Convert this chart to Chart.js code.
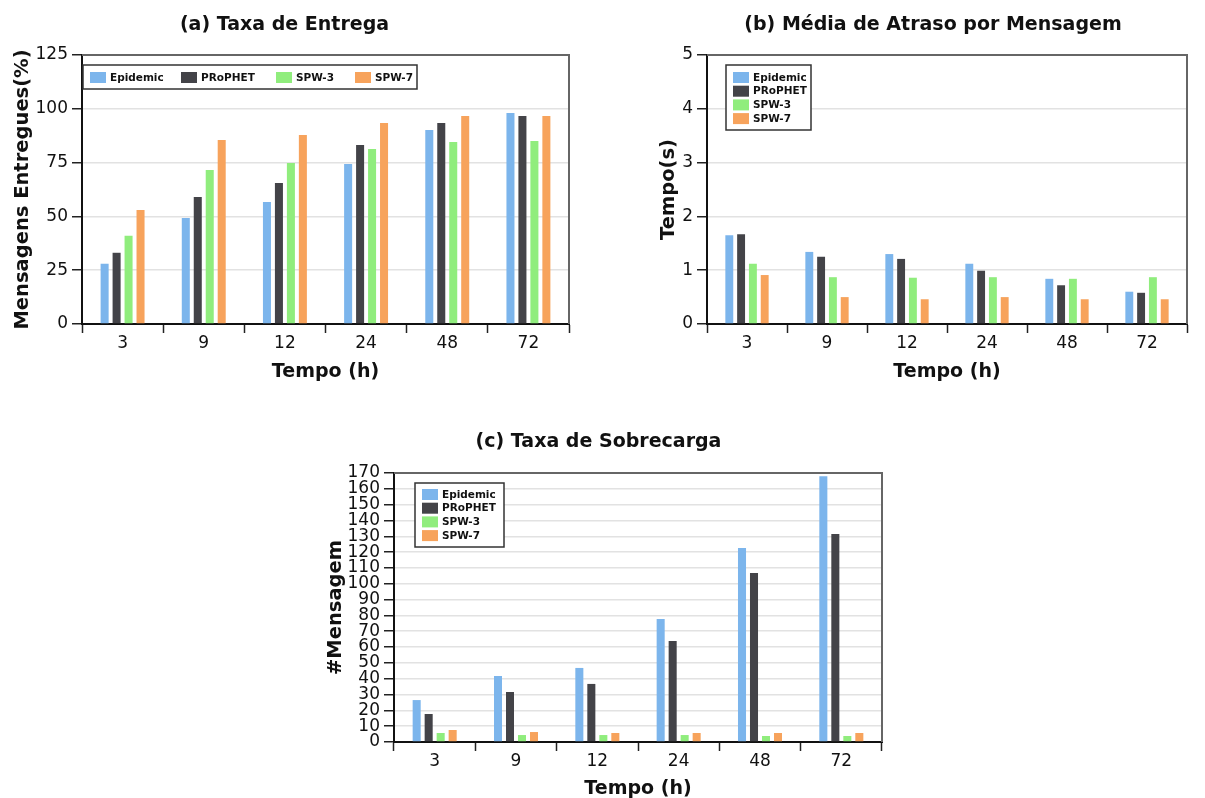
<!DOCTYPE html>
<html>
<head>
<meta charset="utf-8">
<script src="https://cdn.jsdelivr.net/npm/chart.js@4.4.1/dist/chart.umd.min.js"></script>
<style>
  html, body { margin: 0; padding: 0; background: #fff; width: 1205px; height: 798px; overflow: hidden; }
  canvas { position: absolute; }
</style>
</head>
<body>
<canvas id="chartA" width="600" height="400" style="left:0;top:0"></canvas>
<canvas id="chartB" width="600" height="400" style="left:605px;top:0"></canvas>
<canvas id="chartC" width="600" height="410" style="left:300px;top:400px"></canvas>
<script>
// categorias e séries
const categories = ["3", "9", "12", "24", "48", "72"];
const seriesNames = ["Epidemic", "PRoPHET", "SPW-3", "SPW-7"];
const palette = ["#7cb5ec", "#434348", "#90ed7d", "#f7a35c"];

// (a) taxa de entrega (%)
const deliveryEpidemic = [28, 49.3, 56.7, 74.3, 90.1, 98.0];
const deliveryProphet = [33.1, 59, 65.5, 83.2, 93.4, 96.7];
const deliverySpw3 = [41, 71.6, 74.8, 81.3, 84.6, 85.0];
const deliverySpw7 = [53, 85.5, 87.8, 93.4, 96.7, 96.7];

// (b) média de atraso (s)
const delayEpidemic = [1.65, 1.34, 1.30, 1.12, 0.84, 0.60];
const delayProphet = [1.67, 1.25, 1.21, 0.99, 0.72, 0.58];
const delaySpw3 = [1.12, 0.87, 0.86, 0.87, 0.84, 0.87];
const delaySpw7 = [0.91, 0.50, 0.46, 0.50, 0.46, 0.46];

// (c) taxa de sobrecarga
const overheadEpidemic = [26.5, 41.7, 46.8, 77.7, 122.6, 168];
const overheadProphet = [17.7, 31.6, 36.7, 63.8, 106.8, 131.5];
const overheadSpw3 = [5.7, 4.4, 4.4, 4.4, 3.8, 3.8];
const overheadSpw7 = [7.6, 6.3, 5.7, 5.7, 5.7, 5.7];

const FONT = "'DejaVu Sans', Verdana, sans-serif";

// borda superior/direita do gráfico
const frameBorder = {
    id: "frameBorder",
    afterDraw(chart) {
        const { ctx, chartArea: a } = chart;
        ctx.save();
        ctx.strokeStyle = "#666";
        ctx.lineWidth = 2;
        ctx.beginPath();
        ctx.moveTo(a.left, a.top);
        ctx.lineTo(a.right, a.top);
        ctx.lineTo(a.right, a.bottom);
        ctx.stroke();
        ctx.restore();
    },
};

// legenda com caixa dentro da área do gráfico
const boxLegend = {
    id: "boxLegend",
    afterDraw(chart, args, opts) {
        const { ctx, chartArea: a } = chart;
        const x = a.left + opts.dx, y = a.top + opts.dy;
        ctx.save();
        ctx.fillStyle = "#fff";
        ctx.fillRect(x, y, opts.w, opts.h);
        ctx.strokeStyle = "#333";
        ctx.lineWidth = 1.5;
        ctx.strokeRect(x, y, opts.w, opts.h);
        ctx.font = "bold 10.5px " + FONT;
        ctx.textBaseline = "middle";
        ctx.textAlign = "left";
        chart.data.datasets.forEach((ds, i) => {
            let ix, iy;
            if (opts.horizontal) {
                ix = x + opts.cols[i];
                iy = y + opts.pad;
            } else {
                ix = x + opts.pad;
                iy = y + opts.padTop + i * opts.pitch;
            }
            ctx.fillStyle = ds.backgroundColor;
            ctx.fillRect(ix, iy, 16, 11);
            ctx.fillStyle = "#111";
            ctx.fillText(ds.label, ix + 20, iy + 6);
        });
        ctx.restore();
    },
};

function makeDatasets(lists) {
    return lists.map((values, i) => ({
        label: seriesNames[i],
        data: values,
        backgroundColor: palette[i],
        borderWidth: 0,
        categoryPercentage: 0.59,
        barPercentage: 0.67,
    }));
}

function makeChart(id, cfg) {
    return new Chart(document.getElementById(id), {
        type: "bar",
        data: { labels: categories, datasets: makeDatasets(cfg.series) },
        plugins: [frameBorder, boxLegend],
        options: {
            responsive: false,
            maintainAspectRatio: false,
            animation: false,
            devicePixelRatio: 1,
            layout: { padding: cfg.padding },
            plugins: {
                legend: { display: false },
                tooltip: { enabled: false },
                title: {
                    display: true,
                    text: cfg.title,
                    color: "#111",
                    font: { family: FONT, size: 19, weight: "bold" },
                    padding: cfg.titlePad,
                },
                boxLegend: cfg.legend,
            },
            scales: {
                x: {
                    offset: true,
                    afterFit: (s) => { s.height = cfg.xHeight; },
                    border: { display: true, color: "#111", width: 2 },
                    grid: {
                        display: true,
                        offset: true,
                        drawOnChartArea: false,
                        drawTicks: true,
                        tickLength: 9,
                        tickColor: "#222",
                        tickWidth: 1.5,
                    },
                    ticks: { color: "#111", padding: 0, font: { family: FONT, size: 17 } },
                    title: {
                        display: true,
                        text: "Tempo (h)",
                        color: "#111",
                        font: { family: FONT, size: 19, weight: "bold" },
                        padding: { top: 0, bottom: cfg.xTitlePad },
                    },
                },
                y: {
                    min: 0,
                    max: cfg.yMax,
                    afterFit: (s) => { s.width = cfg.yWidth; },
                    border: { display: true, color: "#111", width: 2 },
                    grid: {
                        color: "#e2e2e2",
                        lineWidth: 1.5,
                        drawTicks: true,
                        tickLength: 10,
                        tickColor: "#222",
                        tickWidth: 1.5,
                    },
                    ticks: {
                        stepSize: cfg.yStep,
                        autoSkip: false,
                        color: "#111",
                        padding: 4,
                        font: { family: FONT, size: 17 },
                    },
                    title: {
                        display: true,
                        text: cfg.yTitle,
                        color: "#111",
                        font: { family: FONT, size: 19.5, weight: "bold" },
                        padding: cfg.yTitlePad,
                    },
                },
            },
        },
    });
}

makeChart("chartA", {
    title: "(a) Taxa de Entrega",
    yTitle: "Mensagens Entregues(%)",
    series: [deliveryEpidemic, deliveryProphet, deliverySpw3, deliverySpw7],
    yMax: 125, yStep: 25,
    padding: { left: 0, right: 31, top: 0, bottom: 0 },
    titlePad: { top: 13.6, bottom: 18.6 },
    yWidth: 82, yTitlePad: 11,
    xHeight: 76, xTitlePad: 16.6,
    legend: { horizontal: true, dx: 1, dy: 10, w: 334, h: 24, pad: 7, cols: [7, 98, 193, 272] },
});

makeChart("chartB", {
    title: "(b) Média de Atraso por Mensagem",
    yTitle: "Tempo(s)",
    series: [delayEpidemic, delayProphet, delaySpw3, delaySpw7],
    yMax: 5, yStep: 1,
    padding: { left: 74, right: 18, top: 0, bottom: 0 },
    titlePad: { top: 13.6, bottom: 18.6 },
    yWidth: 28, yTitlePad: -21.8,
    xHeight: 76, xTitlePad: 16.6,
    legend: { horizontal: false, dx: 19, dy: 10, w: 85, h: 65, pad: 7, padTop: 7, pitch: 13.7 },
});

makeChart("chartC", {
    title: "(c) Taxa de Sobrecarga",
    yTitle: "#Mensagem",
    series: [overheadEpidemic, overheadProphet, overheadSpw3, overheadSpw7],
    yMax: 170, yStep: 10,
    padding: { left: 15, right: 18, top: 0, bottom: 0 },
    titlePad: { top: 30.6, bottom: 19.6 },
    yWidth: 79, yTitlePad: 9.2,
    xHeight: 68, xTitlePad: 9.6,
    legend: { horizontal: false, dx: 21, dy: 10, w: 89, h: 64, pad: 7, padTop: 6, pitch: 13.7 },
});
</script>
</body>
</html>
